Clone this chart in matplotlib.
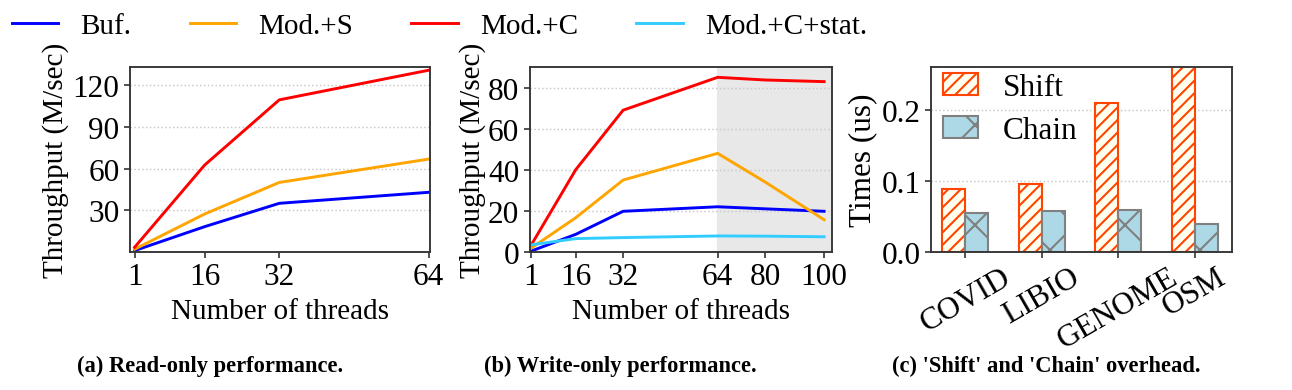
import numpy as np
import matplotlib
matplotlib.use("Agg")
import matplotlib.pyplot as plt

plt.rcParams['font.family'] = ['Liberation Serif', 'DejaVu Serif']
plt.rcParams['hatch.linewidth'] = 1.0

# (a) read-only throughput
threads_a = [1, 16, 32, 64]
read_buf = [1.0, 18.2, 35.0, 42.9]
read_mods = [2.0, 27.3, 50.0, 66.8]
read_modc = [3.4, 62.5, 109.4, 130.7]

# (b) write-only throughput
threads_b = [1, 16, 32, 64, 80, 100]
write_buf = [0.5, 8.6, 19.8, 22.0, 21.0, 19.8]
write_mods = [2.0, 16.7, 35.0, 48.0, 34.1, 15.7]
write_modc = [3.6, 40.1, 69.0, 85.0, 83.7, 82.9]
write_stat = [3.5, 6.5, 7.0, 7.8, 7.7, 7.4]

# (c) shift / chain overhead
datasets = ['COVID', 'LIBIO', 'GENOME', 'OSM']
shift_us = [0.089, 0.096, 0.21, 0.27]
chain_us = [0.055, 0.057, 0.059, 0.040]

C_BUF, C_MODS, C_MODC, C_STAT = 'blue', 'orange', 'red', '#33ccff'
TICK_FS = 15
LABEL_FS = 14
LW = 1.4

fig = plt.figure(figsize=(1292/150, 391/150), dpi=150)

def style(ax):
    for s in ax.spines.values():
        s.set_color('#333333')
        s.set_linewidth(0.9)
    ax.tick_params(labelsize=TICK_FS, length=3, width=0.8, color='#333333', pad=2)
    ax.yaxis.grid(True, linestyle=':', color='#c8c8c8', linewidth=0.7)
    ax.set_axisbelow(True)

bottom, height = 0.353, 0.473

# panel a
ax1 = fig.add_axes([0.1006, bottom, 0.2322, height])
ax1.plot(threads_a, read_buf, color=C_BUF, lw=LW, label='Buf.')
ax1.plot(threads_a, read_mods, color=C_MODS, lw=LW, label='Mod.+S')
ax1.plot(threads_a, read_modc, color=C_MODC, lw=LW, label='Mod.+C')
ax1.set_xlim(0, 64.3)
ax1.set_ylim(0, 133)
ax1.set_xticks(threads_a)
ax1.set_yticks([30, 60, 90, 120])
ax1.set_xlabel('Number of threads', fontsize=LABEL_FS, labelpad=3)
ax1.set_ylabel('Throughput (M/sec)', fontsize=LABEL_FS, labelpad=2)
style(ax1)

# panel b
ax2 = fig.add_axes([0.410, bottom, 0.234, height])
ax2.axvspan(64, 102.7, color='#e8e8e8', zorder=0)
ax2.plot(threads_b, write_buf, color=C_BUF, lw=LW, label='Buf.')
ax2.plot(threads_b, write_mods, color=C_MODS, lw=LW, label='Mod.+S')
ax2.plot(threads_b, write_modc, color=C_MODC, lw=LW, label='Mod.+C')
ax2.plot(threads_b, write_stat, color=C_STAT, lw=LW, label='Mod.+C+stat.')
ax2.set_xlim(0.4, 102.7)
ax2.set_ylim(0, 90)
ax2.set_xticks(threads_b)
ax2.set_yticks([0, 20, 40, 60, 80])
ax2.set_xlabel('Number of threads', fontsize=LABEL_FS, labelpad=3)
ax2.set_ylabel('Throughput (M/sec)', fontsize=LABEL_FS, labelpad=1)
style(ax2)

# panel c
ax3 = fig.add_axes([0.7206, bottom, 0.233, height])
x = np.arange(len(datasets))
w = 0.3
ax3.bar(x - w/2, shift_us, w, color='ivory', edgecolor='orangered', hatch='////',
        linewidth=1.0, label='Shift')
ax3.bar(x + w/2, chain_us, w, color='lightblue', edgecolor='gray', hatch='x',
        linewidth=1.0, label='Chain')
ax3.set_ylim(0, 0.26)
ax3.set_xlim(-0.45, 3.49)
ax3.set_yticks([0.0, 0.1, 0.2])
ax3.set_xticks(x)
ax3.set_xticklabels(datasets, rotation=30, ha='center')
ax3.set_ylabel('Times (us)', fontsize=15, labelpad=2)
style(ax3)
ax3.legend(loc='upper left', bbox_to_anchor=(0.03, 0.985), frameon=False, fontsize=15,
           handlelength=1.1, handleheight=0.7, handletextpad=0.8, borderaxespad=0,
           borderpad=0.1, labelspacing=0.45)

# shared legend on top
h, l = ax2.get_legend_handles_labels()
fig.legend(h, l, loc='upper left', bbox_to_anchor=(0.0, 0.995), ncol=4, frameon=False,
           fontsize=LABEL_FS, handlelength=1.6, handletextpad=0.75, columnspacing=2.0,
           borderaxespad=0)

cap_y = 1 - 366/391
fig.text(210/1292, cap_y, '(a) Read-only performance.', ha='center', va='center',
         fontsize=10.8, weight='bold')
fig.text(620/1292, cap_y, '(b) Write-only performance.', ha='center', va='center',
         fontsize=10.8, weight='bold')
fig.text(1046/1292, cap_y, "(c) 'Shift' and 'Chain' overhead.", ha='center', va='center',
         fontsize=10.8, weight='bold')

fig.savefig('out.png', dpi=150)
